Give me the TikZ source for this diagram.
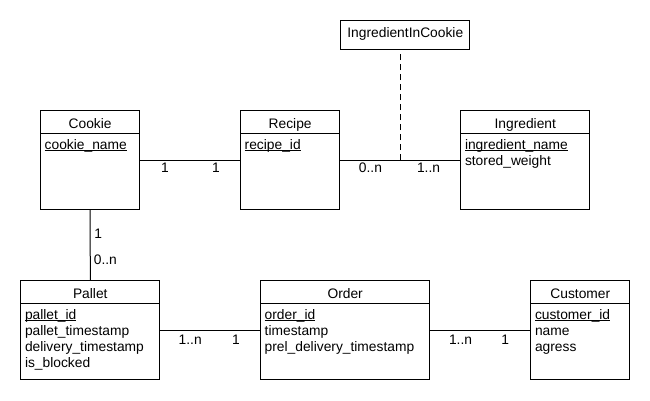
\documentclass[tikz,border=0pt]{standalone}
\usepackage{fontspec}
\setmainfont{Liberation Sans}
\usetikzlibrary{calc}
\newcommand\keyattr[1]{\setbox0\hbox{#1}\rlap{\rule[-1.7pt]{\wd0}{0.9pt}}\box0}
\tikzset{
  ent/.style={draw, line width=1pt, inner sep=0pt, anchor=north west},
  txt/.style={inner sep=0pt, font=\fontsize{13.8}{16}\selectfont},
  attr/.style={txt, anchor=base west},
  head/.style={txt, anchor=base},
  mult/.style={txt, anchor=base west},
  conn/.style={line width=1pt},
  assoc/.style={line width=1pt, dash pattern=on 6pt off 4pt},
}
\begin{document}
\begin{tikzpicture}[x=1pt,y=-1pt]
\useasboundingbox (0,0) rectangle (650,400);
% entity boxes
\node[ent, minimum width=99.3pt, minimum height=99pt] (cookie) at (40,110) {};
\node[ent, minimum width=99.3pt, minimum height=99pt] (recipe) at (240,110) {};
\node[ent, minimum width=129pt, minimum height=99pt] (ingredient) at (460.3,110) {};
\node[ent, minimum width=129pt, minimum height=29pt] (iic) at (340.3,20.3) {};
\node[ent, minimum width=139pt, minimum height=99pt] (pallet) at (20.3,280.3) {};
\node[ent, minimum width=169.3pt, minimum height=99pt] (order) at (260,280.3) {};
\node[ent, minimum width=99pt, minimum height=99pt] (customer) at (530.3,280.3) {};
% header separators
\foreach \b in {cookie,recipe,ingredient,pallet,order,customer}{
  \draw[conn] ([yshift=-23pt]\b.north west) -- ([yshift=-23pt]\b.north east);
}
% headers
\node[head] (hcookie) at ([yshift=-18pt]cookie.north) {Cookie};
\node[head] (hrecipe) at ([yshift=-18pt]recipe.north) {Recipe};
\node[head] (hingredient) at ([yshift=-18pt]ingredient.north) {Ingredient};
\node[head] (hiic) at ([yshift=-17.5pt]iic.north) {IngredientInCookie};
\node[head] (hpallet) at ([yshift=-18pt]pallet.north) {Pallet};
\node[head] (horder) at ([yshift=-18pt]order.north) {Order};
\node[head] (hcustomer) at ([yshift=-18pt]customer.north) {Customer};
% attributes
\node[attr] (c1) at ([xshift=4.5pt,yshift=-39pt]cookie.north west) {\keyattr{cookie\_name}};
\node[attr] (r1) at ([xshift=4.5pt,yshift=-39pt]recipe.north west) {\keyattr{recipe\_id}};
\node[attr] (i1) at ([xshift=4.5pt,yshift=-39pt]ingredient.north west) {\keyattr{ingredient\_name}};
\node[attr] (i2) at ([xshift=4.5pt,yshift=-55pt]ingredient.north west) {stored\_weight};
\node[attr] (p1) at ([xshift=4.5pt,yshift=-39pt]pallet.north west) {\keyattr{pallet\_id}};
\node[attr] (p2) at ([xshift=4.5pt,yshift=-55pt]pallet.north west) {pallet\_timestamp};
\node[attr] (p3) at ([xshift=4.5pt,yshift=-71pt]pallet.north west) {delivery\_timestamp};
\node[attr] (p4) at ([xshift=4.5pt,yshift=-87pt]pallet.north west) {is\_blocked};
\node[attr] (o1) at ([xshift=4.5pt,yshift=-39pt]order.north west) {\keyattr{order\_id}};
\node[attr] (o2) at ([xshift=4.5pt,yshift=-55pt]order.north west) {timestamp};
\node[attr] (o3) at ([xshift=4.5pt,yshift=-71pt]order.north west) {prel\_delivery\_timestamp};
\node[attr] (cu1) at ([xshift=4.5pt,yshift=-39pt]customer.north west) {\keyattr{customer\_id}};
\node[attr] (cu2) at ([xshift=4.5pt,yshift=-55pt]customer.north west) {name};
\node[attr] (cu3) at ([xshift=4.5pt,yshift=-71pt]customer.north west) {agress};
% connectors
\draw[conn] ([yshift=-50pt]cookie.north east) -- ([yshift=-50pt]recipe.north west);
\draw[conn] ([yshift=-50pt]recipe.north east) -- ([yshift=-50pt]ingredient.north west);
\draw[conn] (cookie.south) -- (pallet.north);
\draw[conn] ([yshift=-50pt]pallet.north east) -- ([yshift=-50pt]order.north west);
\draw[conn] ([yshift=-50pt]order.north east) -- ([yshift=-50pt]customer.north west);
\coordinate (mid) at ($([yshift=-50pt]recipe.north east)!0.5!([yshift=-50pt]ingredient.north west)$);
\draw[assoc] (mid) -- (mid |- iic.south);
% multiplicities
\node[mult] (m1) at (160.8,172.7) {1};
\node[mult] (m2) at (211.8,172.7) {1};
\node[mult] (m3) at (358.7,172.7) {0..n};
\node[mult] (m4) at (416.8,172.7) {1..n};
\node[mult] (m5) at (94.2,238.3) {1};
\node[mult] (m6) at (93.7,264) {0..n};
\node[mult] (m7) at (178.5,344) {1..n};
\node[mult] (m8) at (231.8,344) {1};
\node[mult] (m9) at (448.8,344) {1..n};
\node[mult] (m10) at (501.2,344) {1};
\end{tikzpicture}
\end{document}
